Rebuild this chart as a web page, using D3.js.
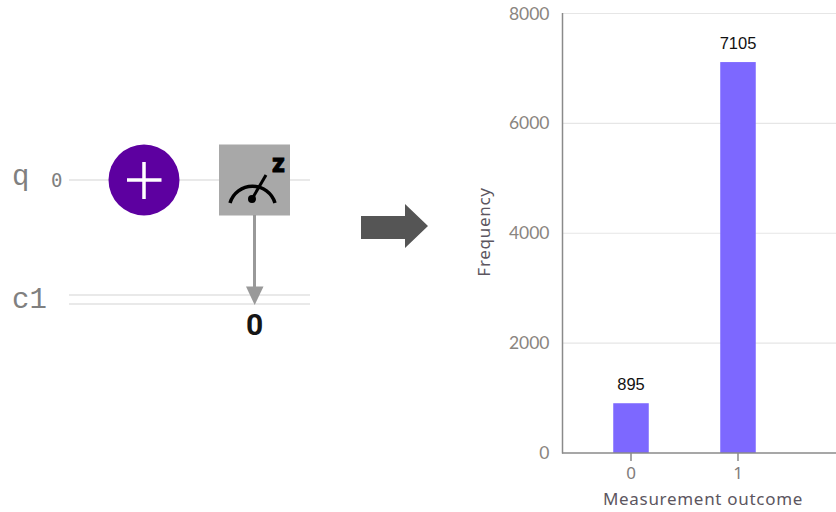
<!DOCTYPE html>
<html><head><meta charset="utf-8">
<style>html,body{margin:0;padding:0;background:#fff}svg{display:block}</style>
<script src="https://d3js.org/d3.v7.min.js"></script></head>
<body><svg id="c" width="836" height="512"></svg>
<script>
const categories=["0","1"];
const counts=[895,7105];
const yTicks=[0,2000,4000,6000,8000];
const svg=d3.select("#c");
const x=d3.scaleBand().domain(categories).range([562,807]).paddingInner(.668).paddingOuter(.479);
const y=d3.scaleLinear().domain([0,8000]).range([453,13.5]);
const g=svg.append("g");
g.selectAll("line.grid").data(yTicks.slice(1)).join("line").attr("class","grid")
 .attr("x1",562).attr("x2",836).attr("y1",d=>y(d)).attr("y2",d=>y(d))
 .attr("stroke","#e6e6e6").attr("stroke-width",1.2);
g.selectAll("rect.bar").data(categories).join("rect").attr("class","bar")
 .attr("x",d=>x(d)).attr("width",x.bandwidth())
 .attr("y",(d,i)=>y(counts[i])-.6).attr("height",(d,i)=>y(0)-y(counts[i])+.6)
 .attr("fill","#7d68ff");
g.selectAll("text.val").data(categories).join("text").attr("class","val")
 .attr("x",d=>x(d)+x.bandwidth()/2).attr("y",(d,i)=>y(counts[i])-13.5)
 .attr("text-anchor","middle").attr("font-family","Liberation Sans").attr("font-size",16.5).attr("fill","#111")
 .text((d,i)=>counts[i]);
g.append("line").attr("x1",562.5).attr("x2",562.5).attr("y1",13).attr("y2",453.5).attr("stroke","#8a8a8a").attr("stroke-width",1.5);
g.append("line").attr("x1",562).attr("x2",836).attr("y1",453).attr("y2",453).attr("stroke","#8a8a8a").attr("stroke-width",1.5);
g.selectAll("text.yt").data(yTicks).join("text").attr("class","yt")
 .attr("x",549.5).attr("y",d=>y(d)+6).attr("text-anchor","end")
 .attr("font-family","Lato").attr("font-size",17.5).attr("fill","#8a8580").text(d=>d);
g.selectAll("line.xt").data(categories).join("line").attr("class","xt")
 .attr("x1",d=>x(d)+x.bandwidth()/2).attr("x2",d=>x(d)+x.bandwidth()/2)
 .attr("y1",453).attr("y2",461).attr("stroke","#8a8a8a").attr("stroke-width",1.5);
g.selectAll("text.xl").data(categories).join("text").attr("class","xl")
 .attr("x",d=>x(d)+x.bandwidth()/2).attr("y",479).attr("text-anchor","middle")
 .attr("font-family","Noto Sans").attr("font-size",17).attr("fill","#7f7b7b").text(d=>d);
svg.append("text").attr("x",703).attr("y",505).attr("text-anchor","middle")
 .attr("font-family","Noto Sans").attr("font-size",17).attr("letter-spacing",.7).attr("fill","#5c5660").text("Measurement outcome");
svg.append("text").attr("transform","translate(490,232) rotate(-90)").attr("text-anchor","middle")
 .attr("font-family","Noto Sans").attr("font-size",17).attr("letter-spacing",.7).attr("fill","#5c5660").text("Frequency");
svg.append("path").attr("d","M361,216H405V204L428,226L405,248V239H361Z").attr("fill","#555");
const c=svg.append("g");
c.append("line").attr("x1",69).attr("x2",310).attr("y1",180).attr("y2",180).attr("stroke","#e2e2e2").attr("stroke-width",1.5);
[295,304].forEach(v=>c.append("line").attr("x1",69).attr("x2",310).attr("y1",v).attr("y2",v).attr("stroke","#e2e2e2").attr("stroke-width",1.5));
c.append("circle").attr("cx",144).attr("cy",180).attr("r",35.5).attr("fill","#5d00a0");
c.append("path").attr("d","M127,180H161.5M144,162V199").attr("stroke","#fff").attr("stroke-width",3.5).attr("fill","none");
c.append("rect").attr("x",219).attr("y",144.5).attr("width",71).attr("height",71).attr("fill","#a8a8a8");
c.append("line").attr("x1",254.5).attr("x2",254.5).attr("y1",215).attr("y2",290).attr("stroke","#999").attr("stroke-width",3);
c.append("path").attr("d","M246,286.5H263.5L254.7,305Z").attr("fill","#999");
c.append("path").attr("d","M230,203A23.5,23.5 0 0 1 275,203").attr("fill","none").attr("stroke","#000").attr("stroke-width",3.5);
c.append("line").attr("x1",252).attr("y1",199).attr("x2",266).attr("y2",175).attr("stroke","#000").attr("stroke-width",3);
c.append("circle").attr("cx",252).attr("cy",199).attr("r",4).attr("fill","#000");
c.append("text").attr("x",278.5).attr("y",171.5).attr("text-anchor","middle").attr("font-family","Roboto").attr("font-weight",900).attr("font-size",25).attr("stroke","#000").attr("stroke-width",.8).attr("fill","#000").text("z");
c.append("text").attr("x",254.5).attr("y",335).attr("text-anchor","middle").attr("font-family","Roboto").attr("font-weight",700).attr("font-size",30).attr("fill","#161616").text("0");
c.append("text").attr("x",12).attr("y",185).attr("font-family","Liberation Mono").attr("font-size",29).attr("fill","#808080").text("q");
c.append("text").attr("x",51).attr("y",187).attr("font-family","DejaVu Sans Mono").attr("font-size",19).attr("fill","#808080").text("0");
c.append("text").attr("x",12).attr("y",308).attr("font-family","Liberation Mono").attr("font-size",29).attr("fill","#808080").text("c1");
</script></body></html>
